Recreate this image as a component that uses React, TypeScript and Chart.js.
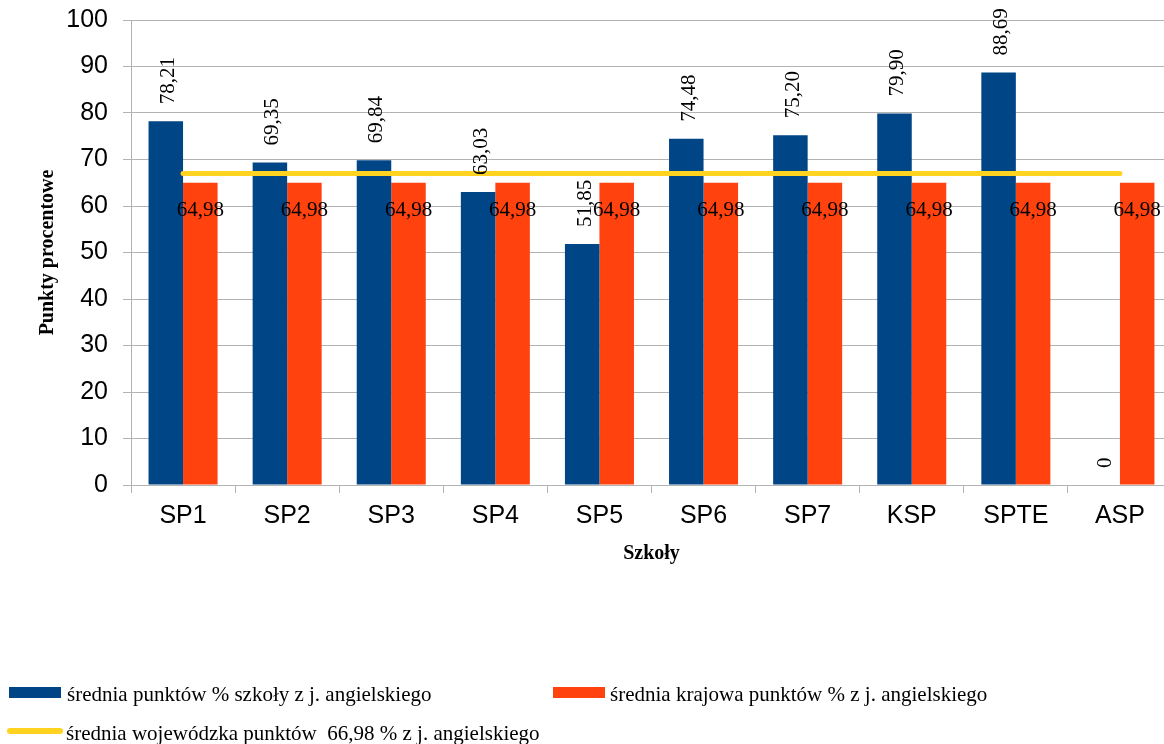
import React, { useEffect, useRef } from 'react';
import { Chart, registerables } from 'chart.js';

Chart.register(...registerables);

const categories = ['SP1', 'SP2', 'SP3', 'SP4', 'SP5', 'SP6', 'SP7', 'KSP', 'SPTE', 'ASP'];
const schoolAvg = [78.21, 69.35, 69.84, 63.03, 51.85, 74.48, 75.2, 79.9, 88.69, 0];
const nationalAvg = [64.98, 64.98, 64.98, 64.98, 64.98, 64.98, 64.98, 64.98, 64.98, 64.98];
const provinceAvg = [66.98, 66.98, 66.98, 66.98, 66.98, 66.98, 66.98, 66.98, 66.98, 66.98];
const seriesLabels = [
  'średnia punktów % szkoły z j. angielskiego',
  'średnia krajowa punktów % z j. angielskiego',
  'średnia wojewódzka punktów  66,98 % z j. angielskiego',
];
const yMin = 0;
const yMax = 100;
const yStep = 10;
const yTitle = 'Punkty procentowe';
const xTitle = 'Szkoły';

const BLUE = '#004586';
const RED = '#FF420E';
const YELLOW = '#FFD320';
const GRID = '#b3b3b3';
const SERIF = '"Liberation Serif", "Times New Roman", serif';
const SANS = '"Liberation Sans", Arial, sans-serif';

const fmt = (v: number) => (v === 0 ? '0' : v.toFixed(2).replace('.', ','));

const valueLabels = {
  id: 'valueLabels',
  afterDatasetsDraw(chart: any) {
    const ctx = chart.ctx;
    ctx.save();
    ctx.fillStyle = '#000';
    ctx.font = `21px ${SERIF}`;
    const blueMeta = chart.getDatasetMeta(1);
    blueMeta.data.forEach((el: any, i: number) => {
      const v = chart.data.datasets[1].data[i];
      ctx.save();
      ctx.translate(el.x + 8.5, el.y - 17);
      ctx.rotate(-Math.PI / 2);
      ctx.textAlign = 'left';
      ctx.textBaseline = 'alphabetic';
      ctx.fillText(fmt(v), 0, 0);
      ctx.restore();
    });
    const redMeta = chart.getDatasetMeta(2);
    redMeta.data.forEach((el: any, i: number) => {
      const v = chart.data.datasets[2].data[i];
      ctx.textAlign = 'center';
      ctx.textBaseline = 'alphabetic';
      ctx.fillText(fmt(v), el.x, el.y + 33);
    });
    ctx.restore();
  },
};

const customLegend = {
  id: 'customLegend',
  afterDraw(chart: any) {
    const ctx = chart.ctx;
    const ds = chart.data.datasets;
    ctx.save();
    ctx.font = `21px ${SERIF}`;
    ctx.fillStyle = '#000';
    ctx.textAlign = 'left';
    ctx.textBaseline = 'alphabetic';
    ctx.fillStyle = ds[1].backgroundColor;
    ctx.fillRect(9, 687, 52, 11);
    ctx.fillStyle = '#000';
    ctx.fillText(ds[1].label, 67, 701);
    ctx.fillStyle = ds[2].backgroundColor;
    ctx.fillRect(553, 687, 52, 11);
    ctx.fillStyle = '#000';
    ctx.fillText(ds[2].label, 610, 701);
    ctx.strokeStyle = ds[0].borderColor;
    ctx.lineWidth = 6;
    ctx.lineCap = 'round';
    ctx.beginPath();
    ctx.moveTo(10, 731);
    ctx.lineTo(60, 731);
    ctx.stroke();
    ctx.fillText(ds[0].label, 66, 740);
    ctx.restore();
  },
};

export default function App() {
  const ref = useRef<HTMLCanvasElement | null>(null);

  useEffect(() => {
    if (!ref.current) return;
    const chart = new Chart(ref.current, {
      type: 'bar',
      data: {
        labels: categories,
        datasets: [
          {
            type: 'line',
            label: seriesLabels[2],
            data: provinceAvg,
            borderColor: YELLOW,
            backgroundColor: YELLOW,
            borderWidth: 5,
            borderCapStyle: 'round',
            pointRadius: 0,
            pointHoverRadius: 0,
            fill: false,
            order: 0,
          } as any,
          {
            type: 'bar',
            label: seriesLabels[0],
            data: schoolAvg,
            backgroundColor: BLUE,
            borderWidth: 0,
            barPercentage: 1,
            categoryPercentage: 0.663,
            order: 1,
          },
          {
            type: 'bar',
            label: seriesLabels[1],
            data: nationalAvg,
            backgroundColor: RED,
            borderWidth: 0,
            barPercentage: 1,
            categoryPercentage: 0.663,
            order: 1,
          },
        ],
      },
      options: {
        responsive: false,
        animation: false,
        devicePixelRatio: 1,
        layout: { padding: { top: 20, left: 0, right: 0, bottom: 178 } },
        plugins: {
          legend: { display: false },
          tooltip: { enabled: false },
        },
        scales: {
          x: {
            offset: true,
            afterFit: (s: any) => {
              s.height = 81;
            },
            grid: {
              offset: true,
              drawOnChartArea: false,
              drawTicks: true,
              tickLength: 8,
              color: GRID,
              lineWidth: 1,
            },
            border: { color: GRID, width: 1 },
            ticks: {
              color: '#000',
              font: { family: SANS, size: 25 },
              padding: 8,
              maxRotation: 0,
              autoSkip: false,
            },
            title: {
              display: true,
              text: xTitle,
              color: '#000',
              font: { family: SERIF, size: 20, weight: 'bold' },
              padding: { top: 0, bottom: 0 },
            },
          },
          y: {
            min: yMin,
            max: yMax,
            afterFit: (s: any) => {
              s.width = 131;
              s.paddingTop = 0;
              s.paddingBottom = 0;
            },
            grid: {
              color: GRID,
              lineWidth: 1,
              tickLength: 8,
              drawTicks: true,
            },
            border: { color: GRID, width: 1 },
            ticks: {
              stepSize: yStep,
              color: '#000',
              font: { family: SANS, size: 25 },
              padding: 15,
            },
            title: {
              display: true,
              text: yTitle,
              color: '#000',
              font: { family: SERIF, size: 20, weight: 'bold' },
              padding: { top: 36, bottom: 0 },
            },
          },
        },
      },
      plugins: [valueLabels, customLegend],
    });
    return () => chart.destroy();
  }, []);

  return (
    <div
      style={{
        position: 'absolute',
        left: 0,
        top: 0,
        width: 1164,
        height: 744,
        overflow: 'hidden',
        background: '#fff',
      }}
    >
      <canvas ref={ref} width={1172} height={744} style={{ display: 'block', width: 1172, height: 744 }} />
    </div>
  );
}
